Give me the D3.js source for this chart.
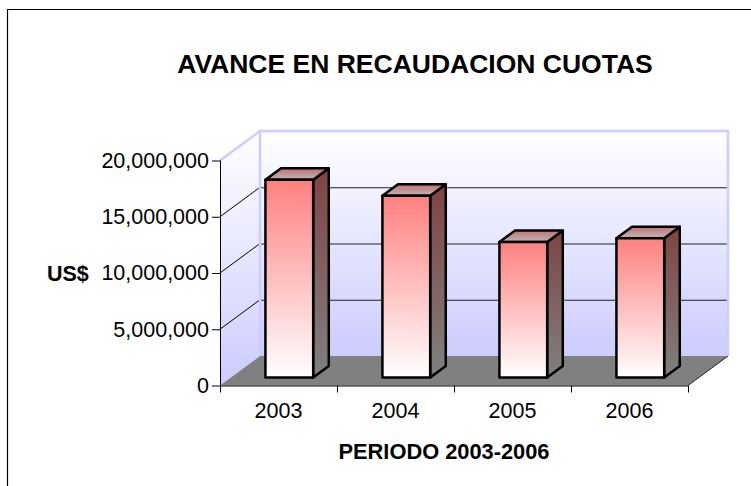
<!DOCTYPE html>
<html>
<head>
<meta charset="utf-8">
<script src="https://cdn.jsdelivr.net/npm/d3@7"></script>
<style>
  body { margin: 0; background: #fff; }
  text { font-family: "Liberation Sans", Arial, sans-serif; fill: #000; }
</style>
</head>
<body>
<div id="chart"></div>
<script>
// data
const years = ["2003", "2004", "2005", "2006"];
const recaudacion = [17570000, 16150000, 12040000, 12390000];
const yTicks = [0, 5000000, 10000000, 15000000, 20000000];
const titulo = "AVANCE EN RECAUDACION CUOTAS";
const ejeX = "PERIODO 2003-2006";
const ejeY = "US$";

const W = 751, H = 486;
const DX = 40, DY = -29.5;        // depth offset of the 3d box
const T0 = 0.27, T1 = 0.66;       // bar depth inside the box

const svg = d3.select("#chart").append("svg")
    .attr("width", W).attr("height", H);

const x = d3.scaleBand().domain(years).range([220, 688]).padding(0);
const y = d3.scaleLinear().domain([0, 20000000]).range([385.5, 160.5]);

function proj(px, py, t) { return [px + DX * t, py + DY * t]; }
function pts(arr) { return arr.map(p => p.join(",")).join(" "); }

const defs = svg.append("defs");
function vGrad(id, stops, units) {
    const g = defs.append("linearGradient").attr("id", id)
        .attr("x1", 0).attr("y1", 0).attr("x2", 0).attr("y2", 1);
    if (units) {
        g.attr("gradientUnits", "userSpaceOnUse")
         .attr("y1", units[0]).attr("y2", units[1]).attr("x2", 0);
    }
    stops.forEach(s => g.append("stop").attr("offset", s[0]).attr("stop-color", s[1]));
}
const yTop = y(20000000), y0 = y(0);
vGrad("wallBack", [[0, "#ffffff"], [1, "#ccccff"]], [yTop + DY, y0 + DY]);
vGrad("wallSide", [[0, "#ffffff"], [1, "#ccccff"]], [yTop + DY, y0]);
vGrad("barFront", [[0, "#ff8080"], [1, "#ffffff"]]);
vGrad("barSide", [[0, "#804444"], [1, "#808080"]]);
vGrad("barTop", [[0, "#c07272"], [1, "#c0b6b6"]]);

// outer frame
svg.append("path").attr("d", `M7.5,${H} V9.5 H${W}`)
    .attr("fill", "none").attr("stroke", "#000").attr("stroke-width", 1.2);

// walls
const xL = x.range()[0], xR = x.range()[1];
svg.append("polygon")
    .attr("points", pts([proj(xL, yTop, 0), proj(xL, yTop, 1), proj(xL, y0, 1), proj(xL, y0, 0)]))
    .attr("fill", "url(#wallSide)");
svg.append("polygon")
    .attr("points", pts([proj(xL, yTop, 1), proj(xR, yTop, 1), proj(xR, y0, 1), proj(xL, y0, 1)]))
    .attr("fill", "url(#wallBack)");

// floor
svg.append("polygon")
    .attr("points", pts([proj(xL, y0, 0), proj(xR, y0, 0), proj(xR, y0, 1), proj(xL, y0, 1)]))
    .attr("fill", "#808080");
svg.append("line")
    .attr("x1", xR).attr("y1", y0).attr("x2", xR + DX).attr("y2", y0 + DY)
    .attr("stroke", "#222").attr("stroke-width", 1);

// gridlines on side and back wall
const grid = yTicks.filter(v => v > 0 && v < 20000000);
svg.selectAll("line.gside").data(grid).enter().append("line")
    .attr("class", "gside")
    .attr("x1", xL).attr("y1", d => y(d))
    .attr("x2", xL + DX).attr("y2", d => y(d) + DY)
    .attr("stroke", "#000").attr("stroke-width", 1);
svg.selectAll("line.gback").data(grid).enter().append("line")
    .attr("class", "gback")
    .attr("x1", xL + DX).attr("y1", d => y(d) + DY + 0.5)
    .attr("x2", xR + DX).attr("y2", d => y(d) + DY + 0.5)
    .attr("stroke", "#222").attr("stroke-width", 1);

// lavender wall borders
svg.append("polyline")
    .attr("points", pts([proj(xL, yTop, 0), proj(xL, yTop, 1), proj(xR, yTop, 1), proj(xR, y0, 1)]))
    .attr("fill", "none").attr("stroke", "#ccccff").attr("stroke-width", 2.5);
svg.append("line")
    .attr("x1", xL + DX).attr("y1", yTop + DY).attr("x2", xL + DX).attr("y2", y0 + DY)
    .attr("stroke", "#ccccff").attr("stroke-width", 2.5);

// bars
const barW = x.bandwidth() / 2.45;
const bars = svg.selectAll("g.bar").data(years.map((k, i) => ({ k, v: recaudacion[i] })))
    .enter().append("g").attr("class", "bar");
function bx0(d) { return x(d.k) + (x.bandwidth() - barW) / 2; }
bars.append("polygon")
    .attr("points", d => {
        const a = bx0(d) + barW, t = y(d.v);
        return pts([proj(a, t, T0), proj(a, t, T1), proj(a, y0, T1), proj(a, y0, T0)]);
    })
    .attr("fill", "url(#barSide)");
bars.append("polygon")
    .attr("points", d => {
        const a = bx0(d), b = a + barW, t = y(d.v);
        return pts([proj(a, t, T0), proj(b, t, T0), proj(b, t, T1), proj(a, t, T1)]);
    })
    .attr("fill", "url(#barTop)");
bars.append("rect")
    .attr("x", d => proj(bx0(d), 0, T0)[0])
    .attr("y", d => proj(0, y(d.v), T0)[1])
    .attr("width", barW)
    .attr("height", d => y0 - y(d.v))
    .attr("fill", "url(#barFront)");
bars.selectAll("polygon, rect")
    .attr("stroke", "#000").attr("stroke-width", 2.5).attr("stroke-linejoin", "round");

// y axis
const yAxis = svg.append("g").attr("transform", `translate(${xL},0)`)
    .call(d3.axisLeft(y).tickValues(yTicks).tickFormat(d3.format(",")).tickSize(8).tickPadding(3));
yAxis.select(".domain").attr("stroke", "#000").attr("d", `M0.5,${yTop}V${y0}`);
yAxis.selectAll(".tick line").attr("stroke", "#000");
yAxis.selectAll("text").attr("font-size", 21.5).attr("font-family", "Liberation Sans, Arial, sans-serif").attr("fill", "#000");

// x axis: line, ticks between categories, labels centred
svg.append("line")
    .attr("x1", xL).attr("y1", y0 + 0.5).attr("x2", xR).attr("y2", y0 + 0.5)
    .attr("stroke", "#000").attr("stroke-width", 1);
svg.selectAll("line.xt").data(years.map(k => x(k)).concat([xR])).enter().append("line")
    .attr("class", "xt")
    .attr("x1", d => d + 0.5).attr("x2", d => d + 0.5)
    .attr("y1", y0).attr("y2", y0 + 7)
    .attr("stroke", "#000");
svg.selectAll("text.year").data(years).enter().append("text")
    .attr("class", "year")
    .attr("x", d => x(d) + x.bandwidth() / 2)
    .attr("y", 418)
    .attr("text-anchor", "middle")
    .attr("font-size", 21.5)
    .text(d => d);

// titles
svg.append("text").attr("x", 415).attr("y", 73)
    .attr("text-anchor", "middle").attr("font-size", 26.5).attr("font-weight", "bold")
    .text(titulo);
svg.append("text").attr("x", 444).attr("y", 459)
    .attr("text-anchor", "middle").attr("font-size", 21.5).attr("font-weight", "bold")
    .attr("textLength", 211).attr("lengthAdjust", "spacingAndGlyphs")
    .text(ejeX);
svg.append("text").attr("x", 47).attr("y", y(10000000) + 7.5)
    .attr("font-size", 21.5).attr("font-weight", "bold")
    .text(ejeY);
</script>
</body>
</html>
